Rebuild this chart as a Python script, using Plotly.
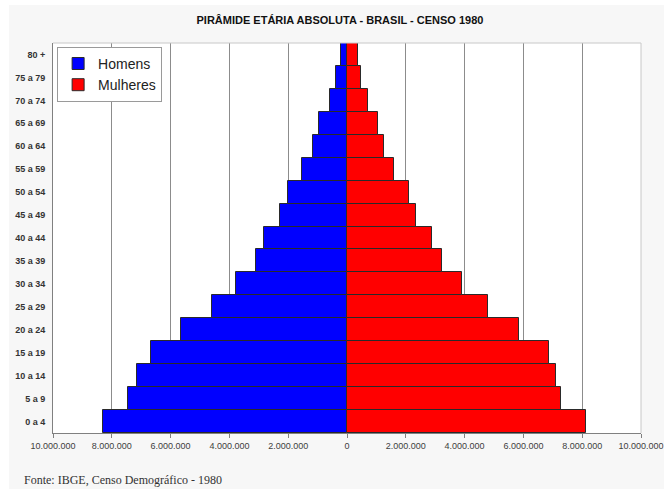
import plotly.graph_objects as go

# Faixas etárias (de baixo para cima)
faixas = ["0 a 4", "5 a 9", "10 a 14", "15 a 19", "20 a 24", "25 a 29", "30 a 34",
          "35 a 39", "40 a 44", "45 a 49", "50 a 54", "55 a 59", "60 a 64",
          "65 a 69", "70 a 74", "75 a 79", "80 +"]

# População por sexo (habitantes)
homens = [8290000, 7440000, 7130000, 6660000, 5630000, 4590000, 3760000,
          3090000, 2820000, 2290000, 2010000, 1530000, 1170000,
          960000, 590000, 370000, 220000]
mulheres = [8120000, 7290000, 7110000, 6860000, 5850000, 4810000, 3900000,
            3230000, 2890000, 2360000, 2110000, 1610000, 1260000,
            1060000, 720000, 480000, 370000]

# Marcas do eixo horizontal
tick_vals = [-10000000, -8000000, -6000000, -4000000, -2000000, 0,
             2000000, 4000000, 6000000, 8000000, 10000000]
tick_text = ["10.000.000", "8.000.000", "6.000.000", "4.000.000", "2.000.000", "0",
             "2.000.000", "4.000.000", "6.000.000", "8.000.000", "10.000.000"]

SANS = "Liberation Sans, Arial, sans-serif"

fig = go.Figure()
fig.add_trace(go.Bar(
    y=faixas, x=[-v for v in homens], orientation="h", name="Homens",
    marker=dict(color="#0000ff", line=dict(color="#2a2a2a", width=1)),
))
fig.add_trace(go.Bar(
    y=faixas, x=mulheres, orientation="h", name="Mulheres",
    marker=dict(color="#ff0000", line=dict(color="#2a2a2a", width=1)),
))

fig.update_layout(
    width=664, height=489,
    margin=dict(l=53, r=23, t=43, b=56, autoexpand=False),
    paper_bgcolor="#f7f7f7",
    plot_bgcolor="#ffffff",
    barmode="relative",
    bargap=0,
    showlegend=True,
    title=dict(
        text="<b>PIRÂMIDE ETÁRIA ABSOLUTA - BRASIL - CENSO 1980</b>",
        font=dict(family=SANS, size=11, color="#111111"),
        x=0.512, xref="container", xanchor="center",
        y=1 - 20 / 489, yref="container", yanchor="middle",
    ),
    legend=dict(
        x=0.007, y=0.99, xanchor="left", yanchor="top",
        bgcolor="#ffffff", bordercolor="#9a9a9a", borderwidth=1,
        font=dict(family=SANS, size=14, color="#222222"),
        traceorder="normal", itemwidth=30,
    ),
    xaxis=dict(
        range=[-10000020, 10000020],
        tickvals=tick_vals, ticktext=tick_text,
        tickfont=dict(family=SANS, size=9, color="#404040"),
        showgrid=True, gridcolor="#8c8c8c", gridwidth=1,
        zeroline=False,
        showline=True, linecolor="#808080", linewidth=1,
        ticks="outside", ticklen=4, tickcolor="#808080",
        automargin=False, fixedrange=True,
    ),
    yaxis=dict(
        range=[-0.5, 16.5],
        tickfont=dict(family=SANS, size=9, color="#333333", weight="bold"),
        showgrid=False, zeroline=False,
        showline=True, linecolor="#808080", linewidth=1,
        ticks="", ticklabelstandoff=5,
        automargin=False, fixedrange=True,
    ),
    shapes=[
        # faixas brancas na borda da imagem
        dict(type="rect", xref="paper", yref="paper",
             x0=-0.2, x1=(9 - 53) / 588, y0=-0.3, y1=1.3,
             fillcolor="#ffffff", line=dict(width=0), layer="below"),
        dict(type="rect", xref="paper", yref="paper",
             x0=-0.2, x1=1.2, y0=(433 - 5) / 390, y1=1.3,
             fillcolor="#ffffff", line=dict(width=0), layer="below"),
        # contorno claro superior e direito da área do gráfico
        dict(type="line", xref="paper", yref="paper",
             x0=0, x1=1, y0=1, y1=1, line=dict(color="#c8c8c8", width=1)),
        dict(type="line", xref="paper", yref="paper",
             x0=1, x1=1, y0=0, y1=1, line=dict(color="#c8c8c8", width=1)),
    ],
    annotations=[
        dict(text="Fonte: IBGE, Censo Demográfico - 1980",
             xref="paper", yref="paper",
             x=(22 - 53) / 588, y=(433 - 480) / 390,
             xanchor="left", yanchor="middle", showarrow=False,
             font=dict(family="Liberation Serif, Times New Roman, serif", size=12, color="#333333")),
    ],
)

fig.write_html("out.html")
